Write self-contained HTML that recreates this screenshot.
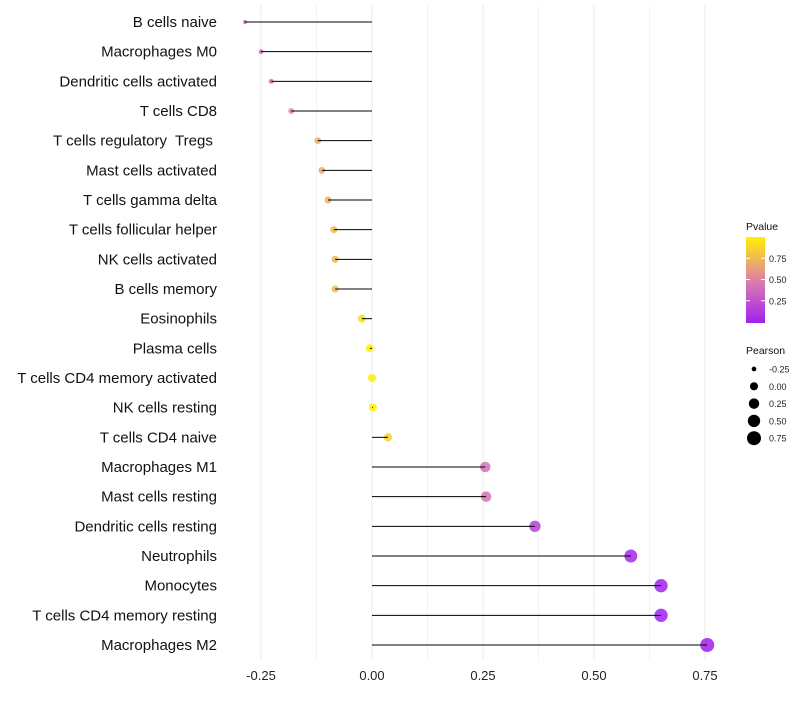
<!DOCTYPE html>
<html><head><meta charset="utf-8"><style>
body{margin:0;background:#fff;font-family:"Liberation Sans",sans-serif}
</style></head><body>
<svg id="c" width="800" height="700" xmlns="http://www.w3.org/2000/svg"></svg>
<script>
const categories=["B cells naive","Macrophages M0","Dendritic cells activated","T cells CD8","T cells regulatory  Tregs ","Mast cells activated","T cells gamma delta","T cells follicular helper","NK cells activated","B cells memory","Eosinophils","Plasma cells","T cells CD4 memory activated","NK cells resting","T cells CD4 naive","Macrophages M1","Mast cells resting","Dendritic cells resting","Neutrophils","Monocytes","T cells CD4 memory resting","Macrophages M2"];
const pearson=[-0.286,-0.25,-0.227,-0.182,-0.122,-0.113,-0.099,-0.086,-0.083,-0.083,-0.023,-0.005,0.0,0.002,0.036,0.255,0.257,0.367,0.583,0.651,0.651,0.755];
const pvalue=[0.32,0.38,0.42,0.52,0.68,0.7,0.72,0.76,0.75,0.75,0.92,0.99,0.99,0.99,0.87,0.42,0.42,0.17,0.03,0.01,0.01,0.0];
const xTicks=[-0.25,0,0.25,0.5,0.75];
const xTickLabels=["-0.25","0.00","0.25","0.50","0.75"];
const pTicks=[0.25,0.5,0.75];
const sizeTicks=[-0.25,0,0.25,0.5,0.75];
const NS="http://www.w3.org/2000/svg",svg=document.getElementById('c');
const X=v=>372+v*444;
const Y=i=>22+i*(623/21);
const R=v=>Math.sqrt(Math.max(2,16.4+43.4*v));
function col(p){const a=[160,32,240],m=[222,128,168],b=[255,240,0];let c0,c1,t;
 if(p<0.5){c0=a;c1=m;t=p/0.5}else{c0=m;c1=b;t=(p-0.5)/0.5}
 return 'rgb('+c0.map((v,k)=>Math.round(v+(c1[k]-v)*t)).join(',')+')';}
function el(t,at,txt){const e=document.createElementNS(NS,t);for(const k in at)e.setAttribute(k,at[k]);if(txt!=null)e.textContent=txt;svg.appendChild(e);return e;}
for(let v=-0.25;v<=0.76;v+=0.125){const e=el('line',{x1:X(v),x2:X(v),y1:5,y2:660,stroke:'#ebebeb','stroke-width':Math.abs(v*8%2)<0.01?1:0.6});

}
xTicks.forEach((v,i)=>{const t=el('text',{x:X(v),y:680,'text-anchor':'middle','font-size':13,fill:'#222'},xTickLabels[i]);

});
categories.forEach((c,i)=>{
 const y=Y(i);
 const t=el('text',{x:217,y:y+5,'text-anchor':'end','font-size':15,fill:'#111',style:'white-space:pre'},c);
 
 
 const d=el('circle',{cx:X(pearson[i]),cy:y,r:R(pearson[i]),fill:col(pvalue[i]),'fill-opacity':0.85});
 
 
 const l=el('line',{x1:X(0),x2:X(pearson[i]),y1:y,y2:y,stroke:'#000','stroke-width':1});
 
 
});
el('text',{x:746,y:230,'font-size':10.5,fill:'#111'},'Pvalue');
const defs=el('defs',{});const g=document.createElementNS(NS,'linearGradient');g.setAttribute('id','pg');g.setAttribute('x1','0');g.setAttribute('y1','1');g.setAttribute('x2','0');g.setAttribute('y2','0');
[0,0.25,0.5,0.75,1].forEach(p=>{const s=document.createElementNS(NS,'stop');s.setAttribute('offset',p);s.setAttribute('stop-color',col(p));g.appendChild(s);});defs.appendChild(g);
const lb=el('rect',{x:746,y:237,width:19,height:86,fill:'url(#pg)'});


const PY=p=>322-p*85;
pTicks.forEach(p=>{el('line',{x1:746,x2:750,y1:PY(p),y2:PY(p),stroke:'#fff'});el('line',{x1:761,x2:765,y1:PY(p),y2:PY(p),stroke:'#fff'});
 el('text',{x:769,y:PY(p)+3.5,'font-size':9,fill:'#222'},p.toFixed(2));});
el('text',{x:746,y:354,'font-size':10.5,fill:'#111'},'Pearson');
sizeTicks.forEach((v,i)=>{const y=369+i*17.3;
 const c=el('circle',{cx:754,cy:y,r:R(v),fill:'#000'});
 
 
 el('text',{x:769,y:y+3.5,'font-size':9,fill:'#222'},v.toFixed(2));});
</script>
</body></html>
